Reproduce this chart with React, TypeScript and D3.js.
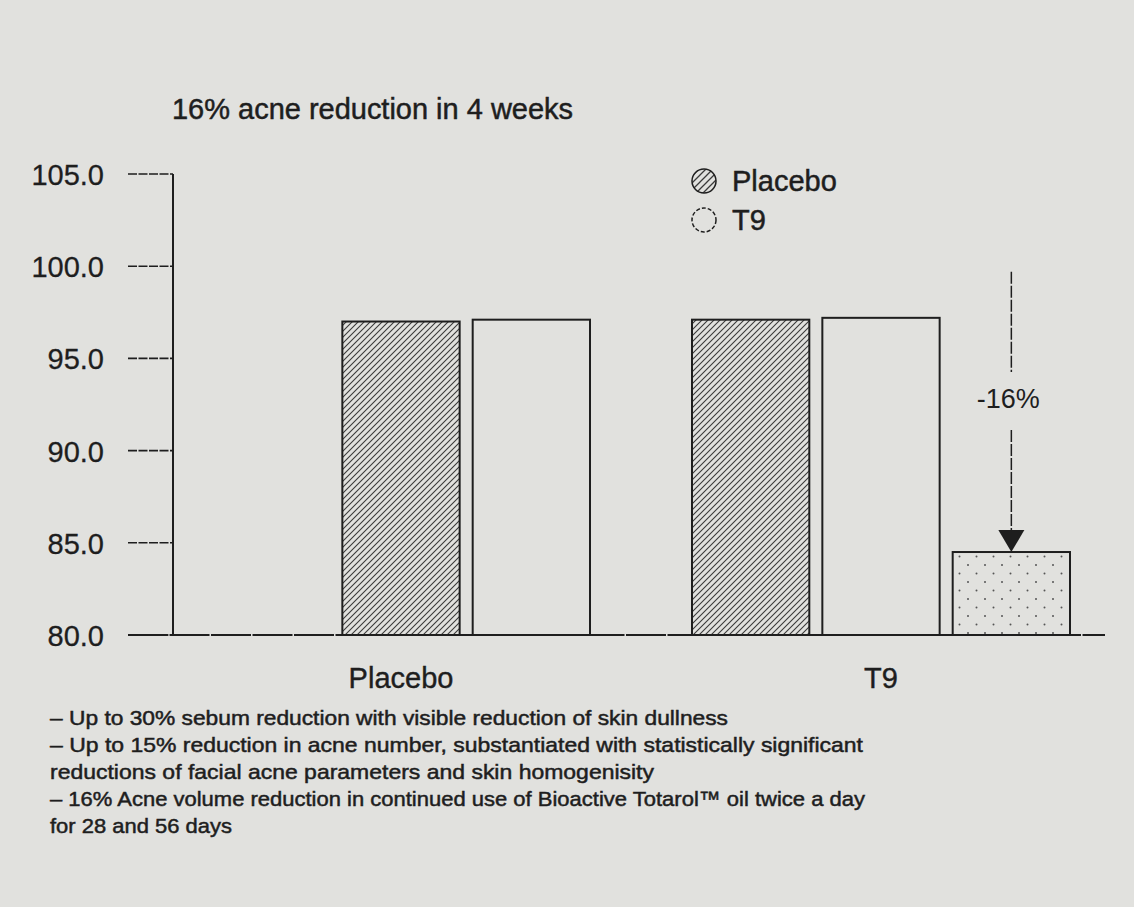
import React, { useEffect, useRef } from 'react';
import * as d3 from 'd3';

// Chart data
const title = '16% acne reduction in 4 weeks';
const categories = ['Placebo', 'T9'];
const legendLabels = ['Placebo', 'T9'];
const yTicks = [80, 85, 90, 95, 100, 105];
const slots = ['first', 'second', 'third'];
const placeboSeries = ['', 'Placebo', 'T9'];
const placeboValues = [null, 97.0, 97.1];
const t9Series = ['Placebo', 'T9', 'T9 4 weeks'];
const t9Values = [97.1, 97.2, 84.5];
const changeLabel = '-16%';
const changeFrom = 99.7;
const notes = [
  '\u2013 Up to 30% sebum reduction with visible reduction of skin dullness',
  '\u2013 Up to 15% reduction in acne number, substantiated with statistically significant',
  'reductions of facial acne parameters and skin homogenisity',
  '\u2013 16% Acne volume reduction in continued use of Bioactive Totarol\u2122 oil twice a day',
  'for 28 and 56 days',
];
const noteWidths = [678, 813, 604, 815, 182];

const App = () => {
  const ref = useRef<SVGSVGElement | null>(null);

  useEffect(() => {
    const width = 1134;
    const height = 907;
    const ink = '#1e1e1e';
    const font = '"Liberation Sans", Arial, Helvetica, sans-serif';

    const svg = d3.select(ref.current);
    svg.selectAll('*').remove();

    // paper background
    svg.append('rect')
      .attr('width', width)
      .attr('height', height)
      .attr('fill', '#e1e1de');

    const defs = svg.append('defs');

    const hatch = defs.append('pattern')
      .attr('id', 'hatch')
      .attr('patternUnits', 'userSpaceOnUse')
      .attr('width', 6)
      .attr('height', 6);
    hatch.append('path')
      .attr('d', 'M0,6 L6,0 M-1.5,1.5 L1.5,-1.5 M4.5,7.5 L7.5,4.5')
      .attr('stroke', '#3a3a3a')
      .attr('stroke-width', 1.1);

    const hatchWide = defs.append('pattern')
      .attr('id', 'hatch-wide')
      .attr('patternUnits', 'userSpaceOnUse')
      .attr('width', 7)
      .attr('height', 7);
    hatchWide.append('path')
      .attr('d', 'M0,7 L7,0 M-1.5,1.5 L1.5,-1.5 M5.5,8.5 L8.5,5.5')
      .attr('stroke', '#3a3a3a')
      .attr('stroke-width', 1.3);

    const dots = defs.append('pattern')
      .attr('id', 'dots')
      .attr('patternUnits', 'userSpaceOnUse')
      .attr('width', 17)
      .attr('height', 17);
    dots.append('circle').attr('cx', 4).attr('cy', 4).attr('r', 1).attr('fill', '#555');
    dots.append('circle').attr('cx', 12.5).attr('cy', 12.5).attr('r', 1).attr('fill', '#555');

    const fillFor: Record<string, string> = {
      Placebo: 'url(#hatch)',
      T9: 'none',
      'T9 4 weeks': 'url(#dots)',
    };

    // scales
    const y = d3.scaleLinear().domain([80, 105]).range([635, 174]);
    const x0 = d3.scaleBand<string>()
      .domain(categories)
      .range([212, 1070])
      .paddingInner(0.2125);
    const x1 = d3.scaleBand<string>()
      .domain(slots)
      .range([0, x0.bandwidth()])
      .paddingInner(0.1);

    const axisLeft = 173;
    const tickStart = 128;

    // title
    svg.append('text')
      .attr('x', 172)
      .attr('y', 119)
      .attr('font-family', font)
      .attr('font-size', 29)
      .attr('fill', ink)
      .attr('stroke', ink)
      .attr('stroke-width', 0.5)
      .attr('textLength', 401)
      .attr('lengthAdjust', 'spacingAndGlyphs')
      .text(title);

    // y axis line + ticks
    svg.append('line')
      .attr('x1', axisLeft).attr('x2', axisLeft)
      .attr('y1', y(105)).attr('y2', y(80))
      .attr('stroke', ink).attr('stroke-width', 2);

    const ticks = svg.append('g');
    ticks.selectAll('line')
      .data(yTicks)
      .enter()
      .append('line')
      .attr('x1', tickStart)
      .attr('x2', axisLeft)
      .attr('y1', d => y(d))
      .attr('y2', d => y(d))
      .attr('stroke', ink)
      .attr('stroke-width', 1.6)
      .attr('stroke-dasharray', '9 1.5');
    ticks.selectAll('text')
      .data(yTicks)
      .enter()
      .append('text')
      .attr('x', 104)
      .attr('y', d => y(d) + 11)
      .attr('text-anchor', 'end')
      .attr('font-family', font)
      .attr('font-size', 29)
      .attr('fill', ink)
      .attr('stroke', ink)
      .attr('stroke-width', 0.3)
      .text(d => d3.format('.1f')(d));

    // baseline
    svg.append('line')
      .attr('x1', tickStart).attr('x2', 1105)
      .attr('y1', y(80)).attr('y2', y(80))
      .attr('stroke', ink).attr('stroke-width', 2)
      .attr('stroke-dasharray', '40 1.5');

    // bars
    const groups = [
      { category: 'Placebo', series: placeboSeries, values: placeboValues },
      { category: 'T9', series: t9Series, values: t9Values },
    ];
    groups.forEach(g => {
      const bars = slots
        .map((s, i) => ({ slot: s, series: g.series[i], value: g.values[i] }))
        .filter(b => b.value !== null);
      svg.append('g')
        .attr('transform', `translate(${x0(g.category)},0)`)
        .selectAll('rect')
        .data(bars)
        .enter()
        .append('rect')
        .attr('x', d => x1(d.slot) as number)
        .attr('y', d => y(d.value as number))
        .attr('width', x1.bandwidth())
        .attr('height', d => y(80) - y(d.value as number))
        .attr('fill', d => fillFor[d.series])
        .attr('stroke', ink)
        .attr('stroke-width', 2);
    });

    // category labels
    svg.selectAll('.cat')
      .data(categories)
      .enter()
      .append('text')
      .attr('class', 'cat')
      .attr('x', d => (x0(d) as number) + x0.bandwidth() / 2)
      .attr('y', 688)
      .attr('text-anchor', 'middle')
      .attr('font-family', font)
      .attr('font-size', 29)
      .attr('fill', ink)
      .attr('stroke', ink)
      .attr('stroke-width', 0.4)
      .text(d => d);

    // legend
    const legend = svg.append('g');
    legendLabels.forEach((label, i) => {
      const cy = 181 + i * 39;
      legend.append('circle')
        .attr('cx', 704)
        .attr('cy', cy)
        .attr('r', 12)
        .attr('fill', fillFor[label] === 'none' ? 'none' : 'url(#hatch-wide)')
        .attr('stroke', ink)
        .attr('stroke-width', 1.5)
        .attr('stroke-dasharray', i === 0 ? 'none' : '4 2');
      legend.append('text')
        .attr('x', 732)
        .attr('y', cy + 10)
        .attr('font-family', font)
        .attr('font-size', 29)
        .attr('fill', ink)
        .attr('stroke', ink)
        .attr('stroke-width', 0.5)
        .text(label);
    });

    // -16% annotation arrow
    const target = t9Values[2];
    const ax = (x0('T9') as number) + (x1('third') as number) + x1.bandwidth() / 2;
    const yTop = y(changeFrom);
    const yTip = y(target);
    const yLabel = (yTop + yTip) / 2 - 14;
    const arrow = svg.append('g');
    arrow.append('line')
      .attr('x1', ax).attr('x2', ax)
      .attr('y1', yTop).attr('y2', yLabel - 26)
      .attr('stroke', ink).attr('stroke-width', 1.5)
      .attr('stroke-dasharray', '12 2');
    arrow.append('line')
      .attr('x1', ax).attr('x2', ax)
      .attr('y1', yLabel + 32).attr('y2', yTip - 20)
      .attr('stroke', ink).attr('stroke-width', 1.5)
      .attr('stroke-dasharray', '12 2');
    arrow.append('path')
      .attr('d', `M${ax - 13},${yTip - 22} L${ax + 13},${yTip - 22} L${ax},${yTip} Z`)
      .attr('fill', ink);
    arrow.append('text')
      .attr('x', ax - 3)
      .attr('y', yLabel + 10)
      .attr('text-anchor', 'middle')
      .attr('font-family', font)
      .attr('font-size', 27)
      .attr('fill', ink)
      .text(changeLabel);

    // notes under the chart
    svg.selectAll('.note')
      .data(notes)
      .enter()
      .append('text')
      .attr('class', 'note')
      .attr('x', 50)
      .attr('y', (d, i) => 725 + i * 27)
      .attr('font-family', font)
      .attr('font-size', 21)
      .attr('fill', ink)
      .attr('stroke', ink)
      .attr('stroke-width', 0.5)
      .attr('textLength', (d, i) => noteWidths[i])
      .attr('lengthAdjust', 'spacingAndGlyphs')
      .text(d => d);
  }, []);

  return (
    <svg
      ref={ref}
      width={1134}
      height={907}
      style={{ position: 'absolute', left: 0, top: 0, display: 'block' }}
    />
  );
};

export default App;
